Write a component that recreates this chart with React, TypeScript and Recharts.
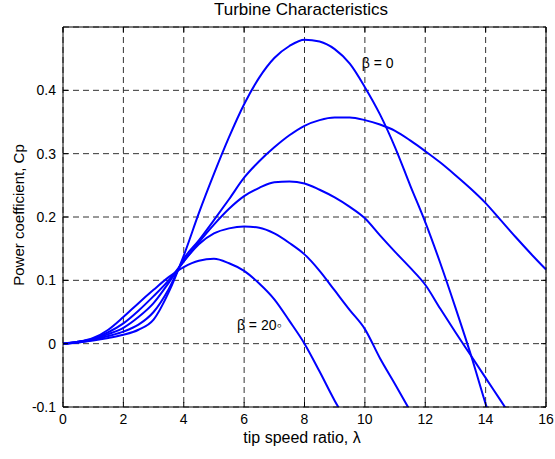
import React from 'react';
import { LineChart, Line, XAxis, YAxis, CartesianGrid, ReferenceDot } from 'recharts';

// tip speed ratio samples
const lambda = [0, 0.5, 1, 1.5, 2, 2.5, 3, 3.5, 4, 4.5, 5, 5.5, 6, 6.5, 7, 7.5, 8, 8.5, 9, 9.5, 10, 10.5, 11, 11.5, 12, 12.5, 13, 13.5, 14, 14.5, 15, 15.5, 16];

// Cp curves (top curve is beta = 0, lowest is beta = 20)
const cpBeta0 = [0, 0.002, 0.005, 0.009, 0.014, 0.022, 0.038, 0.081, 0.139, 0.206, 0.268, 0.326, 0.378, 0.42, 0.451, 0.47, 0.48, 0.477, 0.465, 0.442, 0.405, 0.362, 0.31, 0.25, 0.192, 0.127, 0.057, -0.016, -0.095, -0.17];
const cpBeta5 = [0, 0.002, 0.006, 0.012, 0.019, 0.03, 0.05, 0.086, 0.134, 0.163, 0.195, 0.228, 0.262, 0.288, 0.31, 0.329, 0.344, 0.353, 0.357, 0.357, 0.353, 0.346, 0.336, 0.321, 0.304, 0.286, 0.266, 0.245, 0.222, 0.195, 0.168, 0.142, 0.117];
const cpBeta10 = [0, 0.003, 0.007, 0.015, 0.025, 0.042, 0.064, 0.096, 0.13, 0.16, 0.188, 0.213, 0.233, 0.246, 0.255, 0.256, 0.253, 0.243, 0.231, 0.216, 0.198, 0.171, 0.145, 0.12, 0.093, 0.055, 0.018, -0.018, -0.054, -0.09, -0.126];
const cpBeta15 = [0, 0.003, 0.008, 0.018, 0.032, 0.052, 0.075, 0.1, 0.13, 0.157, 0.174, 0.182, 0.185, 0.183, 0.174, 0.159, 0.141, 0.115, 0.084, 0.053, 0.023, -0.023, -0.064, -0.106];
const cpBeta20 = [0, 0.003, 0.009, 0.022, 0.042, 0.064, 0.085, 0.105, 0.121, 0.131, 0.134, 0.127, 0.115, 0.095, 0.07, 0.036, 0, -0.044, -0.09, -0.13];

const seriesKeys = ['b0', 'b5', 'b10', 'b15', 'b20'];
const seriesValues = [cpBeta0, cpBeta5, cpBeta10, cpBeta15, cpBeta20];

const xTicks = [0, 2, 4, 6, 8, 10, 12, 14, 16];
const yTicks = [-0.1, 0, 0.1, 0.2, 0.3, 0.4];

const data = lambda.map((l, i) => {
  const row: Record<string, number | null> = { lambda: l };
  seriesKeys.forEach((k, j) => {
    const v = seriesValues[j][i];
    row[k] = v === undefined ? null : v;
  });
  return row;
});

const FONT = '"Liberation Sans", Arial, Helvetica, sans-serif';

const LeftTick = (props: any) => {
  const { x, y, payload } = props;
  return (
    <g>
      <line x1={x} x2={x + 5} y1={y} y2={y} stroke="#000" />
      <text x={x - 7} y={y} textAnchor="end" dominantBaseline="central" fontSize={14} fill="#000" fontFamily={FONT}>
        {payload.value}
      </text>
    </g>
  );
};

const BottomTick = (props: any) => {
  const { x, y, payload } = props;
  return (
    <g>
      <line x1={x} x2={x} y1={y} y2={y - 5} stroke="#000" />
      <text x={x} y={y + 12} textAnchor="middle" dominantBaseline="central" fontSize={14} fill="#000" fontFamily={FONT}>
        {payload.value}
      </text>
    </g>
  );
};

const RightTick = (props: any) => {
  const { x, y } = props;
  return <line x1={x} x2={x - 5} y1={y} y2={y} stroke="#000" />;
};

const TopTick = (props: any) => {
  const { x, y } = props;
  return <line x1={x} x2={x} y1={y} y2={y + 5} stroke="#000" />;
};

const Note = (text: string) => (props: any) => (
  <text x={props.cx} y={props.cy} dominantBaseline="central" fontSize={14} fill="#000" fontFamily={FONT}>
    {text}
  </text>
);

export default function App() {
  return (
    <div style={{ position: 'absolute', left: 0, top: 0, width: 555, height: 459, background: '#fff', fontFamily: FONT }}>
      <div style={{ position: 'absolute', left: 0, width: 602, top: 0, textAlign: 'center', fontSize: 17, color: '#000' }}>
        Turbine Characteristics
      </div>
      <div style={{ position: 'absolute', left: 0, width: 604, top: 429, textAlign: 'center', fontSize: 16, color: '#000' }}>
        tip speed ratio, λ
      </div>
      <div
        style={{
          position: 'absolute',
          left: 18,
          top: 215,
          transform: 'translate(-50%, -50%) rotate(-90deg)',
          whiteSpace: 'nowrap',
          fontSize: 15,
          color: '#000',
        }}
      >
        Power coefficient, Cp
      </div>
      <LineChart width={555} height={459} data={data} margin={{ top: 26, right: 8, bottom: 51, left: 62 }}>
        <CartesianGrid stroke="#333" strokeDasharray="6 4" />
        <XAxis
          dataKey="lambda"
          type="number"
          domain={[0, 16]}
          ticks={xTicks}
          height={1}
          tickSize={0}
          tickMargin={0}
          stroke="#000"
          tick={BottomTick}
        />
        <XAxis
          xAxisId="top"
          orientation="top"
          dataKey="lambda"
          type="number"
          domain={[0, 16]}
          ticks={xTicks}
          height={1}
          tickSize={0}
          tickMargin={0}
          stroke="#000"
          tick={TopTick}
        />
        <YAxis
          type="number"
          domain={[-0.1, 0.5]}
          ticks={yTicks}
          allowDataOverflow
          width={1}
          tickSize={0}
          tickMargin={0}
          stroke="#000"
          tick={LeftTick}
        />
        <YAxis
          yAxisId="right"
          orientation="right"
          type="number"
          domain={[-0.1, 0.5]}
          ticks={yTicks}
          allowDataOverflow
          width={1}
          tickSize={0}
          tickMargin={0}
          stroke="#000"
          tick={RightTick}
        />
        {seriesKeys.map((k) => (
          <Line
            key={k}
            dataKey={k}
            type="monotone"
            stroke="#0000ff"
            strokeWidth={2}
            dot={false}
            activeDot={false}
            connectNulls={false}
            isAnimationActive={false}
          />
        ))}
        <ReferenceDot x={9.9} y={0.443} r={0} shape={Note('β = 0')} />
        <ReferenceDot x={5.76} y={0.03} r={0} shape={Note('β = 20◦')} />
      </LineChart>
    </div>
  );
}
